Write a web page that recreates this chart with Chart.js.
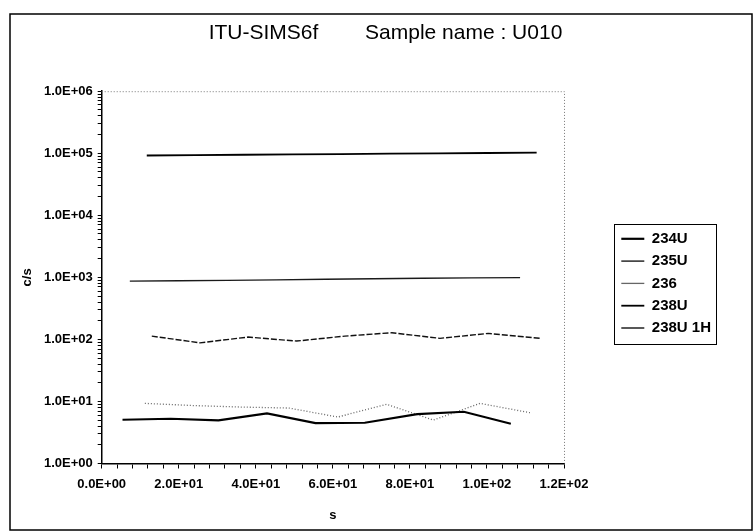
<!DOCTYPE html>
<html>
<head>
<meta charset="utf-8">
<script src="https://cdn.jsdelivr.net/npm/chart.js@4.4.1/dist/chart.umd.min.js"></script>
<style>
  html, body { margin: 0; padding: 0; background: #fff; }
</style>
</head>
<body>
<canvas id="chart" width="755" height="532"></canvas>
<script>
// series (x in s, y in c/s)
const seriesNames = ['234U', '235U', '236', '238U', '238U 1H'];

const x234 = [5.4, 17.9, 30.3, 42.9, 55.5, 68.3, 81.9, 94.0, 106.2];
const y234 = [5.07, 5.26, 4.96, 6.43, 4.49, 4.54, 6.26, 6.82, 4.37];

const x235 = [7.3, 20.0, 32.6, 45.3, 58.0, 70.6, 83.3, 95.9, 108.6];
const y235 = [870, 880, 895, 910, 930, 950, 965, 980, 990];

const x236 = [11.2, 23.7, 36.2, 48.6, 61.3, 74.0, 86.1, 98.2, 111.2];
const y236 = [9.31, 8.59, 8.12, 7.83, 5.61, 8.98, 5.01, 9.31, 6.58];

const x238 = [11.7, 24.3, 36.9, 49.5, 62.1, 74.8, 87.4, 100.1, 112.9];
const y238 = [92000, 93000, 94500, 96000, 97000, 98500, 99500, 101000, 102000];

const x238H = [13.0, 25.5, 38.0, 50.6, 63.1, 75.3, 87.8, 100.3, 113.8];
const y238H = [113, 88, 109, 94, 113, 128, 104, 125, 104];

const xMajorTicks = [0, 20, 40, 60, 80, 100, 120];
const xTickLabels = ['0.0E+00', '2.0E+01', '4.0E+01', '6.0E+01', '8.0E+01', '1.0E+02', '1.2E+02'];
const yMajorTicks = [1, 10, 100, 1000, 10000, 100000, 1000000];
const yTickLabels = ['1.0E+00', '1.0E+01', '1.0E+02', '1.0E+03', '1.0E+04', '1.0E+05', '1.0E+06'];

const FONT = 'Arial, "Liberation Sans", sans-serif';

function toPoints(xs, ys) {
  return xs.map((x, i) => ({ x: x, y: ys[i] }));
}

// minor ticks: 5 per major step on x, 2..9 per decade on y
const xTicks = [];
for (let i = 0; i < xMajorTicks.length; i++) {
  xTicks.push(xMajorTicks[i]);
  if (i < xMajorTicks.length - 1) {
    const step = (xMajorTicks[i + 1] - xMajorTicks[i]) / 5;
    for (let k = 1; k < 5; k++) xTicks.push(xMajorTicks[i] + k * step);
  }
}
const yTicks = [];
for (let i = 0; i < yMajorTicks.length; i++) {
  yTicks.push(yMajorTicks[i]);
  if (i < yMajorTicks.length - 1) {
    for (let m = 2; m < 10; m++) yTicks.push(m * yMajorTicks[i]);
  }
}

const datasets = [
  { label: seriesNames[0], data: toPoints(x234, y234), borderColor: '#000', borderWidth: 2.2 },
  { label: seriesNames[1], data: toPoints(x235, y235), borderColor: '#1a1a1a', borderWidth: 1.4 },
  { label: seriesNames[2], data: toPoints(x236, y236), borderColor: '#666', borderWidth: 1.3, borderDash: [1, 2] },
  { label: seriesNames[3], data: toPoints(x238, y238), borderColor: '#000', borderWidth: 1.8 },
  { label: seriesNames[4], data: toPoints(x238H, y238H), borderColor: '#111', borderWidth: 1.4, borderDash: [6, 2] }
].map(d => Object.assign({ pointRadius: 0, tension: 0, fill: false, backgroundColor: d.borderColor }, d));

const sheetLayout = {
  id: 'sheetLayout',
  beforeLayout(chart) {
    const lg = chart.legend;
    if (lg && !lg._fixedWidth) {
      const fit = lg.fit;
      lg.fit = function () { fit.call(this); this.width = 191; };
      lg._fixedWidth = true;
    }
  },
  afterLayout(chart) {
    const lg = chart.legend;
    lg.left = 614; lg.right = 745; lg.top = 224; lg.bottom = 462;
    const t = chart.titleBlock;
    if (t) { t.left += 8; t.right += 8; }
  },
  beforeDatasetsDraw(chart) {
    const { ctx, chartArea: a } = chart;
    ctx.save();
    ctx.strokeStyle = '#777';
    ctx.lineWidth = 1;
    ctx.setLineDash([1, 2]);
    ctx.beginPath();
    ctx.moveTo(a.left, a.top + 0.5);
    ctx.lineTo(a.right + 0.5, a.top + 0.5);
    ctx.lineTo(a.right + 0.5, a.bottom);
    ctx.stroke();
    ctx.restore();
  },
  afterDraw(chart) {
    const { ctx } = chart;
    const hb = chart.legend.legendHitBoxes;
    ctx.save();
    ctx.strokeStyle = '#000';
    ctx.lineWidth = 1;
    if (hb && hb.length) {
      const l = Math.min(...hb.map(h => h.left)) - 7;
      const r = Math.max(...hb.map(h => h.left + h.width)) + 5;
      const t = hb[0].top - 7;
      const b = hb[hb.length - 1].top + hb[hb.length - 1].height + 9;
      ctx.strokeRect(Math.round(l) + 0.5, Math.round(t) + 0.5, Math.round(r - l), Math.round(b - t));
    }
    // outer chart frame
    ctx.lineWidth = 1.5;
    ctx.strokeRect(10, 14, 742, 516);
    ctx.restore();
  }
};

new Chart(document.getElementById('chart'), {
  type: 'line',
  data: { datasets: datasets },
  plugins: [sheetLayout],
  options: {
    responsive: false,
    devicePixelRatio: 1,
    animation: false,
    events: [],
    layout: { padding: { left: 0, right: 0, top: 0, bottom: 0 } },
    plugins: {
      title: {
        display: true,
        text: 'ITU-SIMS6f        Sample name : U010',
        color: '#000',
        font: { family: FONT, size: 21, weight: 'normal' },
        padding: { top: 21, bottom: 45 }
      },
      legend: {
        position: 'right',
        align: 'start',
        fullSize: false,
        padding: 0,
        labels: {
          usePointStyle: true,
          pointStyle: 'line',
          pointStyleWidth: 23,
          boxHeight: 15,
          padding: 7.3,
          color: '#000',
          font: { family: FONT, size: 15, weight: 'bold' }
        }
      },
      tooltip: { enabled: false }
    },
    scales: {
      x: {
        type: 'linear',
        min: 0,
        max: 120,
        afterBuildTicks(scale) { scale.ticks = xTicks.map(v => ({ value: v })); },
        afterFit(scale) { scale.height = 532 - 463.5; },
        border: { display: true, color: '#000', width: 1.5 },
        grid: { drawOnChartArea: false, drawTicks: true, tickLength: 5, tickColor: '#000', tickWidth: 1 },
        ticks: {
          autoSkip: false,
          maxRotation: 0,
          padding: 8,
          color: '#000',
          font: { family: FONT, size: 13, weight: 'bold' },
          callback: (value) => {
            const i = xMajorTicks.indexOf(value);
            return i >= 0 ? xTickLabels[i] : '';
          }
        },
        title: {
          display: true,
          text: 's',
          color: '#000',
          font: { family: FONT, size: 13, weight: 'bold' },
          padding: { top: 0, bottom: 9 }
        }
      },
      y: {
        type: 'logarithmic',
        min: 1,
        max: 1000000,
        afterBuildTicks(scale) { scale.ticks = yTicks.map(v => ({ value: v })); },
        afterFit(scale) { scale.width = 101.7; },
        border: { display: true, color: '#000', width: 1.5 },
        grid: { drawOnChartArea: false, drawTicks: true, tickLength: 4, tickColor: '#000', tickWidth: 1 },
        ticks: {
          autoSkip: false,
          padding: 5,
          color: '#000',
          font: { family: FONT, size: 13, weight: 'bold' },
          callback: (value) => {
            const i = yMajorTicks.indexOf(value);
            return i >= 0 ? yTickLabels[i] : '';
          }
        },
        title: {
          display: true,
          text: 'c/s',
          color: '#000',
          font: { family: FONT, size: 13, weight: 'bold' },
          padding: { top: 20, bottom: 0 }
        }
      }
    }
  }
});
</script>
</body>
</html>
